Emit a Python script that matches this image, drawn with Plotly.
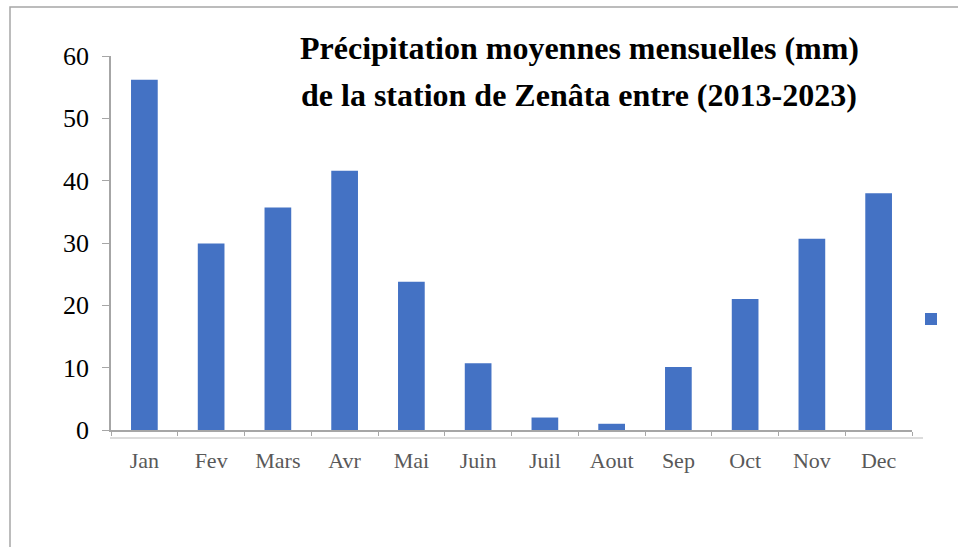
import plotly.graph_objects as go

months = ["Jan", "Fev", "Mars", "Avr", "Mai", "Juin", "Juil", "Aout", "Sep", "Oct", "Nov", "Dec"]
precip = [56.2, 29.9, 35.7, 41.6, 23.8, 10.7, 2.0, 1.0, 10.1, 21.0, 30.7, 38.0]
y_ticks = [0, 10, 20, 30, 40, 50, 60]
title_lines = ["Précipitation moyennes mensuelles (mm)",
               "de la station de Zenâta entre (2013-2023)"]

W, H = 958, 547
L, R, T, B = 111, 46, 56, 117
pw = W - L - R
ph = H - T - B


def px(x):
    return (x - L) / pw


def py(y):
    return (H - B - y) / ph


fig = go.Figure(
    go.Bar(
        x=months, y=precip, width=0.4, name=" ", showlegend=True,
        marker=dict(color="#4472C4", line=dict(width=0)),
    )
)

serif = "Liberation Serif, Times New Roman, serif"

fig.update_layout(
    width=W, height=H,
    margin=dict(l=L, r=R, t=T, b=B, pad=0, autoexpand=False),
    paper_bgcolor="white", plot_bgcolor="white",
    showlegend=True,
    legend=dict(x=911 / W, y=1 - 319 / H, xref="container", yref="container",
                xanchor="left", yanchor="middle",
                font=dict(size=10), bgcolor="rgba(0,0,0,0)"),
    xaxis=dict(
        type="category", showline=True, linecolor="#a6a6a6", linewidth=1.5,
        ticks="outside", tickson="boundaries", ticklen=4, tickcolor="#a6a6a6",
        tickwidth=1.2, showgrid=False, zeroline=False,
        tickfont=dict(family=serif, size=22, color="#595959"),
        ticklabelstandoff=10,
    ),
    yaxis=dict(
        range=[0, 60], tickvals=y_ticks, showline=True, linecolor="#a6a6a6",
        linewidth=1.5, ticks="outside", ticklen=7, tickcolor="#a6a6a6",
        tickwidth=1.2, showgrid=False, zeroline=False,
        tickfont=dict(family=serif, size=26, color="black"),
        ticklabelstandoff=8,
    ),
    font=dict(family=serif),
)

for line, yc in zip(title_lines, [48, 95]):
    fig.add_annotation(
        text="<b>" + line + "</b>", x=px(579), y=py(yc), xref="paper", yref="paper",
        xanchor="center", yanchor="middle", showarrow=False,
        font=dict(family=serif, size=32, color="black"),
    )

# outer chart-area border (left and top visible in the reference)
fig.add_shape(type="rect", xref="paper", yref="paper",
              x0=px(10), y0=py(7), x1=px(1200), y1=py(800),
              line=dict(color="#a6a6a6", width=1.5), layer="below")
# faint double line beneath the category axis
fig.add_shape(type="line", xref="paper", yref="paper",
              x0=px(110), y0=py(438), x1=px(923), y1=py(438),
              line=dict(color="#dcdcdc", width=2), layer="below")

fig.write_html("out.html", config={"displayModeBar": False},
               post_script="document.body.style.margin='0';document.body.style.overflow='hidden';")
